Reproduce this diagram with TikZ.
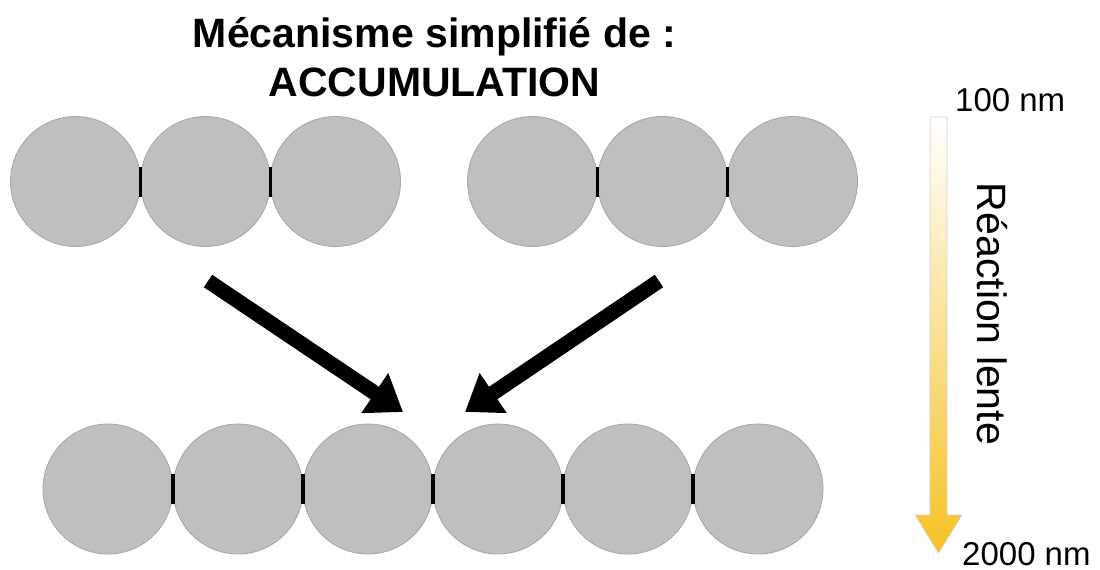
\documentclass[tikz,border=0pt]{standalone}
\usepackage{fontspec}
\setmainfont{Liberation Sans}
\usetikzlibrary{arrows.meta,calc}
\definecolor{beadfill}{RGB}{191,191,191}
\definecolor{beadline}{RGB}{165,165,165}
\definecolor{amber}{RGB}{246,194,36}
\definecolor{paleamber}{RGB}{252,230,155}
\begin{document}
\begin{tikzpicture}[x=1pt,y=-1pt,
  bead/.style={circle,fill=beadfill,draw=beadline,line width=0.8pt,
               minimum size=130pt,inner sep=0pt},
  bond/.style={line width=3.2pt,black},
  push/.style={line width=15pt,black,-{Triangle[length=34pt,width=46pt]}},
  titlefont/.style={font=\bfseries\fontsize{41}{49}\selectfont},
  scalefont/.style={font=\fontsize{33}{40}\selectfont,inner sep=0pt},
]
\useasboundingbox (0,0) rectangle (1100,570);

% title
\node[titlefont,anchor=base] (title1) at (434.5,47) {Mécanisme simplifié de :};
\node[titlefont,anchor=base] (title2) at (434.5,96) {ACCUMULATION};

% two starting chains of three particles
\foreach \i/\x in {1/75.5,2/205.5,3/335.5}
  \node[bead] (L\i) at (\x,181.5) {};
\foreach \i/\x in {1/532.5,2/662.5,3/792.5}
  \node[bead] (R\i) at (\x,181.5) {};

% resulting chain of six particles
\foreach \i/\x in {1/108,2/238,3/368,4/498,5/628,6/758}
  \node[bead] (B\i) at (\x,489) {};

% contact bonds between neighbouring particles
\foreach \c/\a/\b in {L/1/2,L/2/3,R/1/2,R/2/3,B/1/2,B/2/3,B/3/4,B/4/5,B/5/6}
  \draw[bond] ($(\c\a)!0.5!(\c\b)+(0,-15)$) -- ($(\c\a)!0.5!(\c\b)+(0,15)$);

% merging arrows
\coordinate (la) at (208,281);
\coordinate (lb) at (403,412);
\coordinate (ra) at (659,281);
\coordinate (rb) at (465,412);
\draw[push] (la) -- (lb);
\draw[push] (ra) -- (rb);

% size scale with shaded arrow
\shadedraw[draw=black!18,line width=0.6pt,top color=white,middle color=paleamber,bottom color=amber]
  (930,117) -- (947,117) -- (947,515) -- (962,515) -- (938.5,553)
  -- (915,515) -- (930,515) -- cycle;
\node[scalefont,anchor=base west] (top) at (955,111) {100 nm};
\node[scalefont,anchor=base west] (bottom) at (962,565) {2000 nm};
\node[font=\fontsize{41}{49}\selectfont,inner sep=0pt,rotate=-90,anchor=base] (rate) at (977,314) {Réaction lente};
\end{tikzpicture}
\end{document}
